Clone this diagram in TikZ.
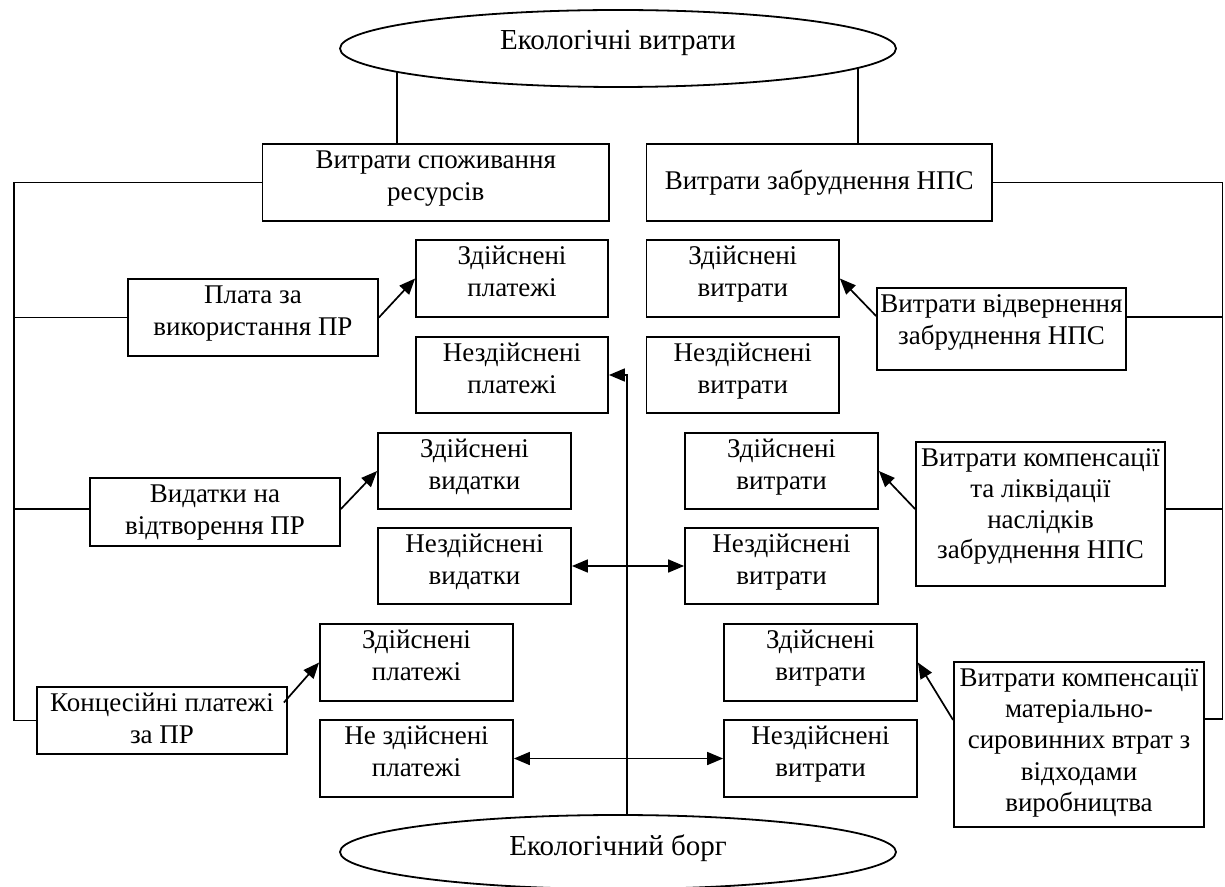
\documentclass[tikz,border=0pt]{standalone}
\usepackage{fontspec}
\setmainfont{Liberation Serif}
\usetikzlibrary{arrows.meta,shapes.geometric,backgrounds}
\newcommand{\boxtext}[4][16pt]{\parbox[c][#3][t]{#2}{\fontsize{13.5}{#1}\selectfont\centering\rule{0pt}{12.25pt}#4}}
\begin{document}
\begin{tikzpicture}[x=0.5pt,y=-0.5pt,
  txt/.style={font=\fontsize{13.5}{16}\selectfont},
  box/.style={txt,draw,line width=0.9pt,fill=white,align=center,inner sep=0pt},
  oval/.style={font=\fontsize{14.5}{17}\selectfont,draw,line width=0.9pt,fill=white,ellipse,inner sep=0pt,minimum width=278pt},
  conn/.style={line width=0.85pt},
  arr/.style={line width=0.85pt,-{Triangle[length=8pt,width=6.5pt]}},
  darr/.style={line width=0.85pt,{Triangle[length=8pt,width=6.5pt]}-{Triangle[length=8pt,width=6.5pt]}}]
\path[use as bounding box] (0,0) rectangle (1225,887);

% ellipses
\node[oval,minimum height=38.5pt] (e1) at (618,48.5) {\raisebox{8.5pt}{Екологічні витрати}};
\node[oval,minimum height=37pt] (e2) at (618,852) {\raisebox{7pt}{Екологічний борг}};

% main boxes
\node[box] (A) at (435.75,182.5) {\boxtext{173.25pt}{38.5pt}{Витрати споживання\\ресурсів}};
\node[box,minimum width=172.75pt,minimum height=38.5pt] (B) at (819.25,182.5) {Витрати забруднення НПС};

% left column
\node[box] (P) at (253,317.5) {\boxtext{125pt}{38.5pt}{Плата за\\використання ПР}};
\node[box] (ZP1) at (512,278.5) {\boxtext{96pt}{38.5pt}{Здійснені\\платежі}};
\node[box] (NP1) at (512,375) {\boxtext{96pt}{38pt}{Нездійснені\\платежі}};
\node[box] (V) at (215,512) {\boxtext{125pt}{34pt}{Видатки на\\відтворення ПР}};
\node[box] (ZV) at (474.5,471) {\boxtext{96.5pt}{38pt}{Здійснені\\видатки}};
\node[box] (NV) at (474.5,566) {\boxtext{96.5pt}{38pt}{Нездійснені\\видатки}};
\node[box] (K) at (162,720.5) {\boxtext{125pt}{33.5pt}{Концесійні платежі\\за ПР}};
\node[box] (ZP2) at (416.5,662.5) {\boxtext{96.5pt}{38.5pt}{Здійснені\\платежі}};
\node[box] (NP2) at (416.5,758.5) {\boxtext{96.5pt}{38.5pt}{Не здійснені\\платежі}};

% right column
\node[box] (ZR1) at (742.75,278.5) {\boxtext{96.25pt}{38.5pt}{Здійснені\\витрати}};
\node[box] (NR1) at (742.75,375) {\boxtext{96.25pt}{38pt}{Нездійснені\\витрати}};
\node[box] (W1) at (1001.5,329) {\boxtext{124.5pt}{41pt}{Витрати відвернення\\забруднення НПС}};
\node[box] (ZR2) at (781.5,471) {\boxtext{96.5pt}{38pt}{Здійснені\\витрати}};
\node[box] (NR2) at (781.5,566) {\boxtext{96.5pt}{38pt}{Нездійснені\\витрати}};
\node[box] (W2) at (1040.5,514) {\boxtext[15.4pt]{124.5pt}{72pt}{Витрати компенсації\\та ліквідації\\наслідків\\забруднення НПС}};
\node[box] (ZR3) at (820.5,662.5) {\boxtext{96.5pt}{38.5pt}{Здійснені\\витрати}};
\node[box] (NR3) at (820.5,758.5) {\boxtext{96.5pt}{38.5pt}{Нездійснені\\витрати}};
\node[box] (W3) at (1079,744.5) {\boxtext[15.6pt]{125pt}{82.5pt}{Витрати компенсації\\матеріально-\\сировинних втрат з\\відходами\\виробництва}};

\coordinate (L) at (14,0);
\coordinate (R) at (1222.5,0);
\coordinate (M) at (627,0);
\coordinate (a1) at (397,0);
\coordinate (b1) at (858,0);
\coordinate (w3r) at ([yshift=12.75pt]W3.east);
\coordinate (w1r) at ([yshift=6pt]W1.east);
\coordinate (w2r) at ([yshift=2.5pt]W2.east);
\coordinate (vl) at ([yshift=1.5pt]V.west);

\begin{pgfonlayer}{background}
\draw[conn] (A.north -| a1) -- (a1 |- e1.center);
\draw[conn] (B.north -| b1) -- (b1 |- e1.center);
\draw[arr] (M |- e2.center) |- (NP1.east);
\end{pgfonlayer}

% left bracket
\draw[conn] (A.west) -| (L |- K.west) -- (K.west);
\draw[conn] (P.west) -- (P.west -| L);
\draw[conn] (vl) -- (vl -| L);

% right bracket
\draw[conn] (B.east) -| (R |- w3r) -- (w3r);
\draw[conn] (w1r) -- (w1r -| R);
\draw[conn] (w2r) -- (w2r -| R);

% diagonal arrows
\draw[arr] (P.east) -- (ZP1.west);
\draw[arr] ([yshift=1.5pt]V.east) -- (ZV.west);
\draw[arr] ([xshift=-2pt,yshift=9pt]K.east) -- (ZP2.west);
\draw[arr] ([yshift=6.5pt]W1.west) -- (ZR1.east);
\draw[arr] ([yshift=2.5pt]W2.west) -- (ZR2.east);
\draw[arr] ([yshift=12.25pt]W3.west) -- (ZR3.east);

% double arrows
\draw[darr] (NV.east) -- (NR2.west);
\draw[darr] (NP2.east) -- (NR3.west);
\end{tikzpicture}
\end{document}
